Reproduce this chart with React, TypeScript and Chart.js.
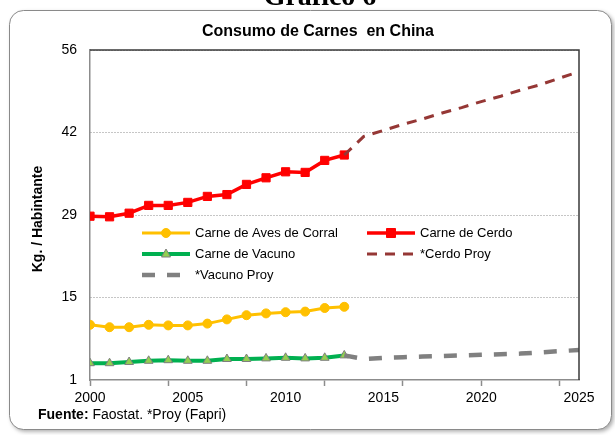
import { useEffect, useRef } from "react";
import { Chart, registerables } from "chart.js";

Chart.register(...registerables);

// ---- data ----
const years = [2000, 2001, 2002, 2003, 2004, 2005, 2006, 2007, 2008, 2009, 2010, 2011, 2012, 2013];
const avesValues = [10.2, 9.8, 9.8, 10.2, 10.1, 10.1, 10.4, 11.1, 11.8, 12.1, 12.3, 12.4, 13.0, 13.2];
const cerdoValues = [28.3, 28.2, 28.8, 30.1, 30.1, 30.6, 31.6, 31.9, 33.6, 34.7, 35.7, 35.6, 37.6, 38.5];
const vacunoValues = [3.8, 3.8, 4.0, 4.2, 4.3, 4.2, 4.2, 4.5, 4.5, 4.6, 4.7, 4.6, 4.7, 5.1];

const projYears = [2013, 2014, 2015, 2016, 2017, 2018, 2019, 2020, 2021, 2022, 2023, 2024, 2025];
const cerdoProyValues = [38.5, 41.6, 42.6, 43.6, 44.5, 45.5, 46.4, 47.4, 48.3, 49.3, 50.2, 51.3, 52.4];
const vacunoProyValues = [5.1, 4.5, 4.7, 4.8, 4.9, 5.0, 5.1, 5.2, 5.3, 5.4, 5.6, 5.8, 6.0];

const yTickValues = [1, 14.75, 28.5, 42.25, 56];
const yTickLabels = ["1", "15", "29", "42", "56"];
const xLabelYears = [2000, 2005, 2010, 2015, 2020, 2025];
const xTickMarkYears = [2000, 2004, 2008, 2012, 2016, 2020, 2024];

const seriesNames = [
  "Carne de Aves de Corral",
  "Carne de Cerdo",
  "Carne de Vacuno",
  "*Cerdo Proy",
  "*Vacuno Proy",
];

const FONT = "'Liberation Sans', Arial, sans-serif";

const toPoints = (xs: number[], ys: number[]) => xs.map((x, i) => ({ x, y: ys[i] }));

const framePlugin = {
  id: "frame",
  beforeDraw(chart: any) {
    const ctx = chart.ctx as CanvasRenderingContext2D;
    ctx.save();
    ctx.fillStyle = "#ffffff";
    ctx.fillRect(0, 0, chart.width, chart.height);
    // rounded frame with shadow
    const x = 9.5, y = 10.5, w = 602, h = 419, r = 14;
    ctx.shadowColor = "rgba(0,0,0,0.35)";
    ctx.shadowBlur = 4;
    ctx.shadowOffsetX = 2;
    ctx.shadowOffsetY = 2;
    ctx.beginPath();
    ctx.moveTo(x + r, y);
    ctx.lineTo(x + w - r, y);
    ctx.arcTo(x + w, y, x + w, y + r, r);
    ctx.lineTo(x + w, y + h - r);
    ctx.arcTo(x + w, y + h, x + w - r, y + h, r);
    ctx.lineTo(x + r, y + h);
    ctx.arcTo(x, y + h, x, y + h - r, r);
    ctx.lineTo(x, y + r);
    ctx.arcTo(x, y, x + r, y, r);
    ctx.closePath();
    ctx.fillStyle = "#ffffff";
    ctx.fill();
    ctx.shadowColor = "transparent";
    ctx.strokeStyle = "#8a8a8a";
    ctx.lineWidth = 1;
    ctx.stroke();

    // clipped heading above the frame
    ctx.fillStyle = "#000000";
    ctx.font = "bold 28px 'Liberation Serif', 'Times New Roman', serif";
    ctx.textAlign = "center";
    ctx.textBaseline = "alphabetic";
    ctx.fillText("Gráfico 6", 320, 5);

    // title
    ctx.font = `bold 16px ${FONT}`;
    ctx.textBaseline = "middle";
    ctx.fillText("Consumo de Carnes  en China", 318, 32);

    // y axis title
    ctx.save();
    ctx.translate(38, 219);
    ctx.rotate(-Math.PI / 2);
    ctx.font = `bold 14px ${FONT}`;
    ctx.fillText("Kg. / Habintante", 0, 0);
    ctx.restore();

    // source
    ctx.textAlign = "left";
    ctx.font = `bold 14px ${FONT}`;
    ctx.fillText("Fuente:", 38, 415);
    const wb = ctx.measureText("Fuente:").width;
    ctx.font = `14px ${FONT}`;
    ctx.fillText(" Faostat. *Proy (Fapri)", 38 + wb, 415);
    ctx.restore();
  },
  afterDraw(chart: any) {
    const ctx = chart.ctx as CanvasRenderingContext2D;
    const a = chart.chartArea;
    ctx.save();
    // top & right border
    ctx.strokeStyle = "#3a3a3a";
    ctx.lineWidth = 1.5;
    ctx.beginPath();
    ctx.moveTo(a.left, a.top);
    ctx.lineTo(a.right, a.top);
    ctx.lineTo(a.right, a.bottom);
    ctx.stroke();

    // legend
    const slots = [
      { x: 142, y: 233 },
      { x: 367, y: 233 },
      { x: 142, y: 254 },
      { x: 367, y: 254 },
      { x: 142, y: 275 },
    ];
    const byName: Record<string, any> = {};
    chart.data.datasets.forEach((d: any) => (byName[d.label] = d));
    seriesNames.forEach((name, i) => {
      const d = byName[name];
      const s = slots[i];
      const x0 = s.x, x1 = s.x + 48, cy = s.y;
      ctx.save();
      ctx.strokeStyle = d.borderColor;
      ctx.lineWidth = d.borderWidth;
      ctx.setLineDash(d.borderDash || []);
      ctx.lineCap = "butt";
      ctx.beginPath();
      ctx.moveTo(x0, cy);
      ctx.lineTo(x1, cy);
      ctx.stroke();
      ctx.setLineDash([]);
      const mx = (x0 + x1) / 2;
      if (d.pointRadius > 0) {
        ctx.fillStyle = d.pointBackgroundColor;
        ctx.strokeStyle = d.pointBorderColor;
        ctx.lineWidth = d.pointBorderWidth;
        ctx.beginPath();
        if (d.pointStyle === "circle") {
          ctx.arc(mx, cy, 4.5, 0, Math.PI * 2);
        } else if (d.pointStyle === "rect") {
          ctx.rect(mx - 4.5, cy - 4.5, 9, 9);
        } else if (d.pointStyle === "triangle") {
          ctx.moveTo(mx, cy - 5);
          ctx.lineTo(mx + 4.5, cy + 3);
          ctx.lineTo(mx - 4.5, cy + 3);
          ctx.closePath();
        }
        ctx.fill();
        ctx.stroke();
      }
      ctx.fillStyle = "#000000";
      ctx.font = `13px ${FONT}`;
      ctx.textAlign = "left";
      ctx.textBaseline = "middle";
      ctx.fillText(name, x1 + 5, cy);
      ctx.restore();
    });
    ctx.restore();
  },
};

export default function App() {
  const ref = useRef<HTMLCanvasElement | null>(null);

  useEffect(() => {
    if (!ref.current) return;
    const allXTicks = Array.from(new Set([...xTickMarkYears, ...xLabelYears])).sort((a, b) => a - b);
    const chart = new Chart(ref.current, {
      type: "line",
      data: {
        datasets: [
          {
            label: seriesNames[3],
            data: toPoints(projYears, cerdoProyValues),
            borderColor: "#953735",
            borderWidth: 3,
            borderDash: [10, 8],
            pointRadius: 0,
            pointStyle: false,
            tension: 0,
          } as any,
          {
            label: seriesNames[4],
            data: toPoints(projYears, vacunoProyValues),
            borderColor: "#808080",
            borderWidth: 4.5,
            borderDash: [13, 12],
            pointRadius: 0,
            pointStyle: false,
            tension: 0,
          } as any,
          {
            label: seriesNames[0],
            data: toPoints(years, avesValues),
            borderColor: "#FFC000",
            backgroundColor: "#FFC000",
            borderWidth: 3,
            pointStyle: "circle",
            pointRadius: 4.5,
            pointBackgroundColor: "#FFC000",
            pointBorderColor: "#FFC000",
            pointBorderWidth: 1,
            tension: 0,
          } as any,
          {
            label: seriesNames[1],
            data: toPoints(years, cerdoValues),
            borderColor: "#FF0000",
            backgroundColor: "#FF0000",
            borderWidth: 3.5,
            pointStyle: "rect",
            pointRadius: 5.8,
            pointBackgroundColor: "#FF0000",
            pointBorderColor: "#FF0000",
            pointBorderWidth: 1,
            tension: 0,
          } as any,
          {
            label: seriesNames[2],
            data: toPoints(years, vacunoValues),
            borderColor: "#00B050",
            backgroundColor: "#92D050",
            borderWidth: 4,
            pointStyle: "triangle",
            pointRadius: 5,
            pointBackgroundColor: "#92D050",
            pointBorderColor: "#7F7F7F",
            pointBorderWidth: 1,
            tension: 0,
          } as any,
        ],
      },
      options: {
        animation: false,
        responsive: false,
        events: [],
        layout: { padding: { left: 0, right: 36, top: 50, bottom: 0 } },
        plugins: {
          legend: { display: false },
          title: { display: false },
          tooltip: { enabled: false },
        },
        scales: {
          x: {
            type: "linear",
            min: 2000,
            max: 2025,
            afterBuildTicks: (scale: any) => {
              scale.ticks = allXTicks.map((v) => ({ value: v }));
            },
            afterFit: (scale: any) => {
              scale.height = 55;
            },
            ticks: {
              autoSkip: false,
              maxRotation: 0,
              padding: 4,
              color: "#000000",
              font: { family: FONT, size: 14 },
              callback: (v: any) => (xLabelYears.includes(Number(v)) ? String(v) : ""),
            },
            grid: {
              drawOnChartArea: false,
              drawTicks: true,
              tickLength: 6,
              tickColor: (c: any) =>
                c.tick && xTickMarkYears.includes(c.tick.value) ? "#8c8c8c" : "rgba(0,0,0,0)",
              tickWidth: 1.5,
            },
            border: { display: true, color: "#8c8c8c", width: 1.5 },
          },
          y: {
            type: "linear",
            min: 1,
            max: 56,
            afterBuildTicks: (scale: any) => {
              scale.ticks = yTickValues.map((v) => ({ value: v }));
            },
            afterFit: (scale: any) => {
              scale.width = 90;
            },
            ticks: {
              padding: 13,
              color: "#000000",
              font: { family: FONT, size: 14 },
              callback: (v: any) => {
                const i = yTickValues.indexOf(Number(v));
                return i >= 0 ? yTickLabels[i] : "";
              },
            },
            grid: {
              drawTicks: false,
              color: (c: any) => (c.tick && c.tick.value === 1 ? "rgba(0,0,0,0)" : "#8c8c8c"),
              lineWidth: 1,
            },
            border: { display: true, color: "#8c8c8c", width: 1.5, dash: [1, 2] },
          },
        },
      } as any,
      plugins: [framePlugin],
    });
    return () => chart.destroy();
  }, []);

  return (
    <div style={{ position: "fixed", left: 0, top: 0, width: 615, height: 435 }}>
      <canvas ref={ref} width={615} height={435} style={{ width: 615, height: 435 }} />
    </div>
  );
}
